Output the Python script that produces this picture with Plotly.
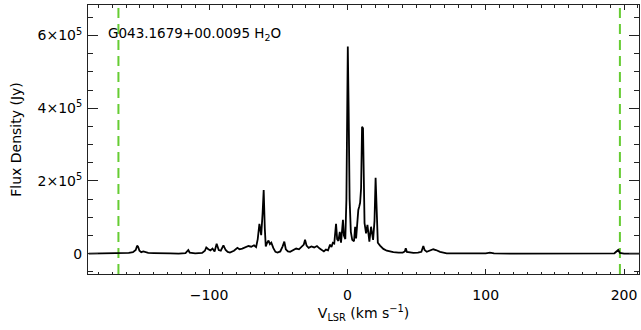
import plotly.graph_objects as go

# H2O maser spectrum of G043.1679+00.0095: velocity (km/s) vs flux density (Jy)
velocity = [
    -187, -170, -162, -158, -155, -153, -152, -151.3, -150.3, -149, -147.5, -146, -144,
    -140, -135, -128, -122, -117, -115, -114, -110, -105, -103, -102, -100.5, -99,
    -97.5, -96, -94.5, -93, -91.5, -89.6, -88, -86.5, -84.9, -82, -79.5, -78, -76,
    -73.5, -71.5, -69.5, -67.5, -66, -64.8, -63.6, -62.3, -61.3, -60.5, -59.7, -59,
    -58, -57, -56, -55, -53.5, -52, -50.5, -48.5, -46.8, -45.6, -44.5, -43, -41.4,
    -39, -37, -35, -33, -31.5, -30.6, -29.5, -28, -26, -24, -22, -20, -18, -17,
    -15.5, -14, -12.5, -11.5, -10.5, -9.5, -8.2, -7.4, -6.5, -5.5, -4.6, -3.8, -3.2,
    -2.5, -1.5, -0.7, -0.1, 0.3, 0.9, 1.6, 2.5, 3.5, 4.8, 5.6, 6.3, 7.0, 7.9, 8.6,
    9.2, 9.9, 10.6, 11.3, 11.9, 12.4, 13.5, 14.5, 15.9, 17.1, 18.6, 19.6, 20.4, 21.1,
    22, 23.6, 26, 28.5, 31, 33.2, 37, 40, 41.5, 42.2, 43, 45, 47.7, 51, 53.5, 54.9,
    55.8, 57.4, 60, 62.1, 64, 67, 71.8, 80, 90, 100, 103, 106, 120, 140, 160, 180,
    193, 195.8, 197, 200, 211,
]
flux = [
    0, 500, 0, 2000, 4000, 10000, 22000, 19000, 8000, 4000, 6000, 5000, 2000,
    1500, 500, 1000, 0, 1500, 10000, 3000, 1000, 2000, 8000, 17000, 12000, 9000,
    14000, 6000, 27000, 10000, 8000, 23000, 10000, 5000, 3000, 8000, 16000, 12000, 14000,
    18000, 21000, 19000, 23000, 18000, 40000, 82000, 51000, 110000, 175000, 70000, 20000,
    30000, 36000, 26000, 30000, 15000, 5000, 3000, 6000, 20000, 33000, 12000, 6000, 5000,
    10000, 14000, 12000, 20000, 25000, 38000, 22000, 16000, 20000, 17000, 21000, 14000, 10000, 6000,
    11000, 9000, 25000, 18000, 30000, 28000, 82000, 40000, 35000, 60000, 30000, 68000, 93000,
    50000, 40000, 150000, 420000, 570000, 400000, 150000, 60000, 38000, 34000, 74000, 42000, 90000, 120000, 130000,
    140000, 180000, 349000, 345000, 150000, 84000, 56000, 79000, 33000, 74000, 38000, 90000, 209000, 150000,
    30000, 22000, 13000, 8000, 5000, 4000, 3000, 3000, 6000, 15000, 5000, 3000, 2000, 3000, 5000, 21000,
    10000, 5000, 9000, 12000, 10000, 5000, 1000, 500, 0, 1000, 3000, 500, 0, 500, 0, 500,
    1000, 10000, 2000, 0, 0,
]

# velocity window limits
window_lines = [-165.5, 197]

y_tickvals = [0, 200000, 400000, 600000]
y_ticktext = ["0", "2×10<sup>5</sup>", "4×10<sup>5</sup>", "6×10<sup>5</sup>"]
x_tickvals = [-100, 0, 100, 200]
x_ticktext = ["−100", "0", "100", "200"]

x_range = [-187.5, 210.8]
y_range = [-56000, 684000]

fig = go.Figure()

for v in window_lines:
    fig.add_trace(go.Scatter(
        x=[v, v], y=y_range, mode="lines",
        line=dict(color="#66cc33", width=2, dash="10px,6px"),
        hoverinfo="skip", showlegend=False,
    ))

fig.add_trace(go.Scatter(
    x=velocity, y=flux, mode="lines",
    line=dict(color="black", width=1.8),
    showlegend=False,
))

fig.add_annotation(
    text="G043.1679+00.0095 H<sub>2</sub>O",
    xref="paper", yref="paper", x=0.033, y=0.893,
    xanchor="left", yanchor="middle", showarrow=False,
    font=dict(family="DejaVu Sans", size=13.5, color="black"),
)

axis_common = dict(
    showgrid=False, zeroline=False, showline=True, linecolor="#222222", linewidth=1,
    ticks="inside", mirror="allticks", tickcolor="#222222",
    tickfont=dict(family="DejaVu Sans", size=14, color="black"),
)

fig.update_xaxes(
    range=x_range, tickvals=x_tickvals, ticktext=x_ticktext, ticklen=5,
    ticklabelstandoff=8,
    minor=dict(dtick=10, tick0=0, ticklen=2.5, ticks="inside", tickcolor="#222222"),
    title=dict(text="V<sub>LSR</sub> (km s<sup>−1</sup>)",
               font=dict(family="DejaVu Sans", size=14, color="black"), standoff=6),
    **axis_common,
)
fig.update_yaxes(
    range=y_range, tickvals=y_tickvals, ticktext=y_ticktext, ticklen=10,
    ticklabelstandoff=2,
    minor=dict(dtick=50000, tick0=0, ticklen=5, ticks="inside", tickcolor="#222222"),
    title=dict(text="Flux Density (Jy)",
               font=dict(family="DejaVu Sans", size=14, color="black"), standoff=12),
    **axis_common,
)

fig.update_layout(
    width=641, height=330,
    margin=dict(l=88, r=2, t=5, b=56),
    plot_bgcolor="white", paper_bgcolor="white",
)

fig.write_html("out.html")
